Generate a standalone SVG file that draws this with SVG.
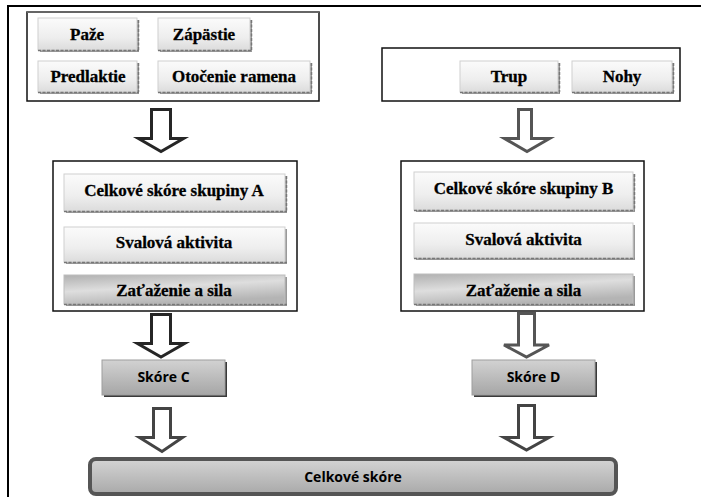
<svg xmlns="http://www.w3.org/2000/svg" width="701" height="497" viewBox="0 0 701 497">
<defs>
<linearGradient id="gBtn" x1="0" y1="0" x2="0" y2="1">
<stop offset="0" stop-color="#fbfbfb"/><stop offset="0.6" stop-color="#eeeeee"/><stop offset="1" stop-color="#dcdcdc"/>
</linearGradient>
<linearGradient id="gDark" x1="0" y1="0" x2="0.4" y2="1">
<stop offset="0" stop-color="#b0b0b0"/><stop offset="0.5" stop-color="#dedede"/><stop offset="1" stop-color="#b4b4b4"/>
</linearGradient>
<linearGradient id="gScore" x1="0" y1="0" x2="0" y2="1">
<stop offset="0" stop-color="#d2d2d2"/><stop offset="1" stop-color="#a6a6a6"/>
</linearGradient>
<linearGradient id="gBar" x1="0" y1="0" x2="0" y2="1">
<stop offset="0" stop-color="#d4d4d4"/><stop offset="1" stop-color="#a9a9a9"/>
</linearGradient>
</defs>
<style>
.frame{fill:none;stroke:#000;stroke-width:2}
.box{fill:#fff;stroke:#111;stroke-width:1.5}
.shadow{fill:#9a9a9a}
.edge{fill:none;stroke:#777;stroke-width:1.5;stroke-dasharray:3 1.5}
.btn{fill:url(#gBtn);stroke:#cfcfcf;stroke-width:1}
.btnd{fill:url(#gDark);stroke:#bdbdbd;stroke-width:1}
.score{fill:url(#gScore);stroke:#9e9e9e;stroke-width:1}
.sshadow{fill:#3a3a3a}
.bar{fill:url(#gBar);stroke:#555;stroke-width:4}
.t{font-family:"Liberation Serif","Times New Roman",serif;font-weight:bold;font-size:17px;fill:#000;stroke:#000;stroke-width:0.3;text-anchor:middle}
.s{font-family:"Open Sans","Liberation Sans",sans-serif;font-weight:bold;font-size:14px;fill:#000;text-anchor:middle}
.arL{fill:#fff;stroke:#262626;stroke-width:3;stroke-linejoin:miter}
.arR{fill:#fff;stroke:#555;stroke-width:3;stroke-linejoin:miter}
.arB{fill:#fff;stroke:#444;stroke-width:3;stroke-linejoin:miter}
</style>

<path class="frame" d="M8,497 V6 H701"/>

<g id="group-arm">
<rect class="box" x="27" y="12" width="292" height="89"/>
<line x1="27" y1="12" x2="319" y2="12" stroke="#666" stroke-width="2"/>
</g>
<g id="paze">
<rect class="shadow" x="40" y="20" width="99" height="32"/>
<rect class="btn" x="38" y="18" width="99" height="32"/>
<path class="edge" d="M38,50.5 H139 M138.5,20 V50"/>
<text class="t" x="87" y="39.5">Paže</text>
</g>
<g id="zapastie">
<rect class="shadow" x="160" y="20" width="92" height="32"/>
<rect class="btn" x="158" y="18" width="92" height="32"/>
<path class="edge" d="M158,50.5 H252 M251.5,20 V50"/>
<text class="t" x="204" y="39.5">Zápästie</text>
</g>
<g id="predlaktie">
<rect class="shadow" x="40" y="63" width="99" height="31"/>
<rect class="btn" x="38" y="61" width="99" height="31"/>
<path class="edge" d="M38,92.5 H139 M138.5,63 V92"/>
<text class="t" x="88" y="82">Predlaktie</text>
</g>
<g id="otocenie">
<rect class="shadow" x="160" y="63" width="152" height="31"/>
<rect class="btn" x="158" y="61" width="152" height="31"/>
<path class="edge" d="M158,92.5 H312 M311.5,63 V92"/>
<text class="t" x="234" y="82">Otočenie ramena</text>
</g>

<g id="group-trunk">
<rect class="box" x="382" y="48" width="298" height="53"/>
</g>
<g id="trup">
<rect class="shadow" x="462" y="63" width="98" height="31"/>
<rect class="btn" x="460" y="61" width="98" height="31"/>
<path class="edge" d="M460,92.5 H560 M559.5,63 V92"/>
<text class="t" x="509" y="82">Trup</text>
</g>
<g id="nohy">
<rect class="shadow" x="574" y="63" width="100" height="31"/>
<rect class="btn" x="572" y="61" width="100" height="31"/>
<path class="edge" d="M572,92.5 H674 M673.5,63 V92"/>
<text class="t" x="622" y="82">Nohy</text>
</g>

<g id="group-a">
<rect class="box" x="53" y="161" width="244" height="150"/>
</g>
<g id="celkove-a">
<rect class="shadow" x="66" y="176" width="221" height="37"/>
<rect class="btn" x="64" y="174" width="221" height="37"/>
<path class="edge" d="M64,211.5 H287 M286.5,176 V211"/>
<text class="t" x="174" y="196">Celkové skóre skupiny A</text>
</g>
<g id="svalova-a">
<rect class="shadow" x="66" y="229" width="221" height="35"/>
<rect class="btn" x="64" y="227" width="221" height="35"/>
<path class="edge" d="M64,262.5 H287"/>
<text class="t" x="174" y="248">Svalová aktivita</text>
</g>
<g id="zatazenie-a">
<rect class="shadow" x="66" y="277" width="221" height="29"/>
<rect class="btnd" x="64" y="275" width="221" height="29"/>
<path class="edge" d="M64,304.5 H287"/>
<text class="t" x="174" y="296">Zaťaženie a sila</text>
</g>

<g id="group-b">
<rect class="box" x="401" y="161" width="243" height="150"/>
</g>
<g id="celkove-b">
<rect class="shadow" x="416" y="174" width="219" height="38"/>
<rect class="btn" x="414" y="172" width="219" height="38"/>
<path class="edge" d="M414,210.5 H635 M634.5,174 V210"/>
<text class="t" x="523.5" y="194">Celkové skóre skupiny B</text>
</g>
<g id="svalova-b">
<rect class="shadow" x="416" y="225" width="219" height="35"/>
<rect class="btn" x="414" y="223" width="219" height="35"/>
<path class="edge" d="M414,258.5 H635"/>
<text class="t" x="523.5" y="245">Svalová aktivita</text>
</g>
<g id="zatazenie-b">
<rect class="shadow" x="416" y="276" width="219" height="30"/>
<rect class="btnd" x="414" y="274" width="219" height="30"/>
<path class="edge" d="M414,304.5 H635"/>
<text class="t" x="523.5" y="296">Zaťaženie a sila</text>
</g>

<g id="skore-c">
<rect class="sshadow" x="104" y="362" width="123" height="35"/>
<rect class="score" x="102" y="360" width="123" height="35"/>
<text class="s" x="163.5" y="382">Skóre C</text>
</g>
<g id="skore-d">
<rect class="sshadow" x="474" y="362" width="123" height="35"/>
<rect class="score" x="472" y="360" width="123" height="35"/>
<text class="s" x="533.5" y="382">Skóre D</text>
</g>

<g id="celkove-skore">
<rect class="bar" x="90" y="459" width="526" height="35" rx="6"/>
<text class="s" x="353" y="482">Celkové skóre</text>
</g>

<g id="connectors">
<path class="arL" d="M151.5,109.5 H170.5 V138.5 H183.5 L161,151.5 L138.5,138.5 H151.5 Z"/>
<path class="arR" d="M518.5,109.5 H531.5 V138.5 H549.5 L527,151.5 L504.5,138.5 H518.5 Z"/>
<path class="arL" d="M151.5,314.5 H170.5 V343.5 H184.5 L161,357 L137.5,343.5 H151.5 Z"/>
<path class="arR" d="M518.5,313.5 H534.5 V345 H549 L526.5,357 L504,345 H518.5 Z"/>
<path class="arB" d="M153.5,408.5 H170.5 V437.5 H182.5 L162,451.5 L139.5,437.5 H153.5 Z"/>
<path class="arB" d="M518.5,405.5 H534.5 V437.5 H549 L526.5,450 L504,437.5 H518.5 Z"/>
</g>
</svg>
